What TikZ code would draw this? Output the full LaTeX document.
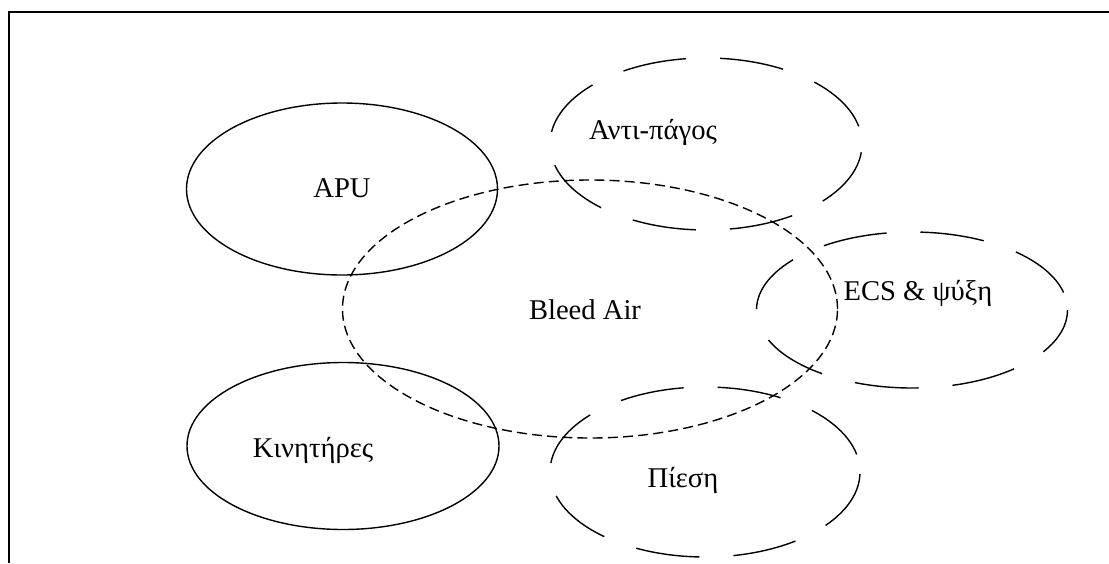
\documentclass[tikz,border=0pt]{standalone}
\usepackage{fontspec}
\setmainfont{Liberation Serif}
\usetikzlibrary{shapes.geometric}
\tikzstyle{area}=[ellipse, draw, inner sep=0, line width=0.7pt]
\tikzstyle{source}=[area]
\tikzstyle{bleed}=[area, dash pattern=on 5pt off 2.6pt]
\tikzstyle{use}=[area, dash pattern=on 32pt off 17pt, dash phase=40pt]
\tikzstyle{label}=[font=\fontsize{14.3}{17}\selectfont, inner sep=0]
\tikzstyle{frame}=[line width=1pt]

\begin{document}
\begin{tikzpicture}[x=0.5pt, y=-0.5pt]
      \useasboundingbox (0, 0) rectangle (1109, 563);
      \fill[white] (0, 0) rectangle (1109, 563);

      \coordinate (frame_nw) at (9, 12);
      \coordinate (frame_ne) at (1109, 12);
      \coordinate (frame_sw) at (9, 563);
      \draw[frame] (frame_ne) -- (frame_nw) -- (frame_sw);

      \node[source, minimum width=155.5pt, minimum height=86pt] (apu) at (342, 189) {};
      \node[source, minimum width=156pt, minimum height=83.5pt] (engines) at (343, 446) {};
      \node[bleed, minimum width=247.5pt, minimum height=129pt] (bleed_air) at (590, 309) {};
      \node[use, minimum width=156pt, minimum height=86pt] (anti_ice) at (706, 144) {};
      \node[use, minimum width=155.5pt, minimum height=78pt] (ecs) at (912, 310) {};
      \node[use, minimum width=155pt, minimum height=85pt] (pressure) at (705, 472) {};

      \node[label] (apu_label) at (342, 188) {APU};
      \node[label] (engines_label) at (313, 450) {Κινητήρες};
      \node[label] (bleed_label) at (585, 310) {Bleed Air};
      \node[label] (anti_ice_label) at (653, 132) {Αντι-πάγος};
      \node[label] (ecs_label) at (918, 293) {ECS \& ψύξη};
      \node[label] (pressure_label) at (683, 480) {Πίεση};
    \end{tikzpicture}
\end{document}
